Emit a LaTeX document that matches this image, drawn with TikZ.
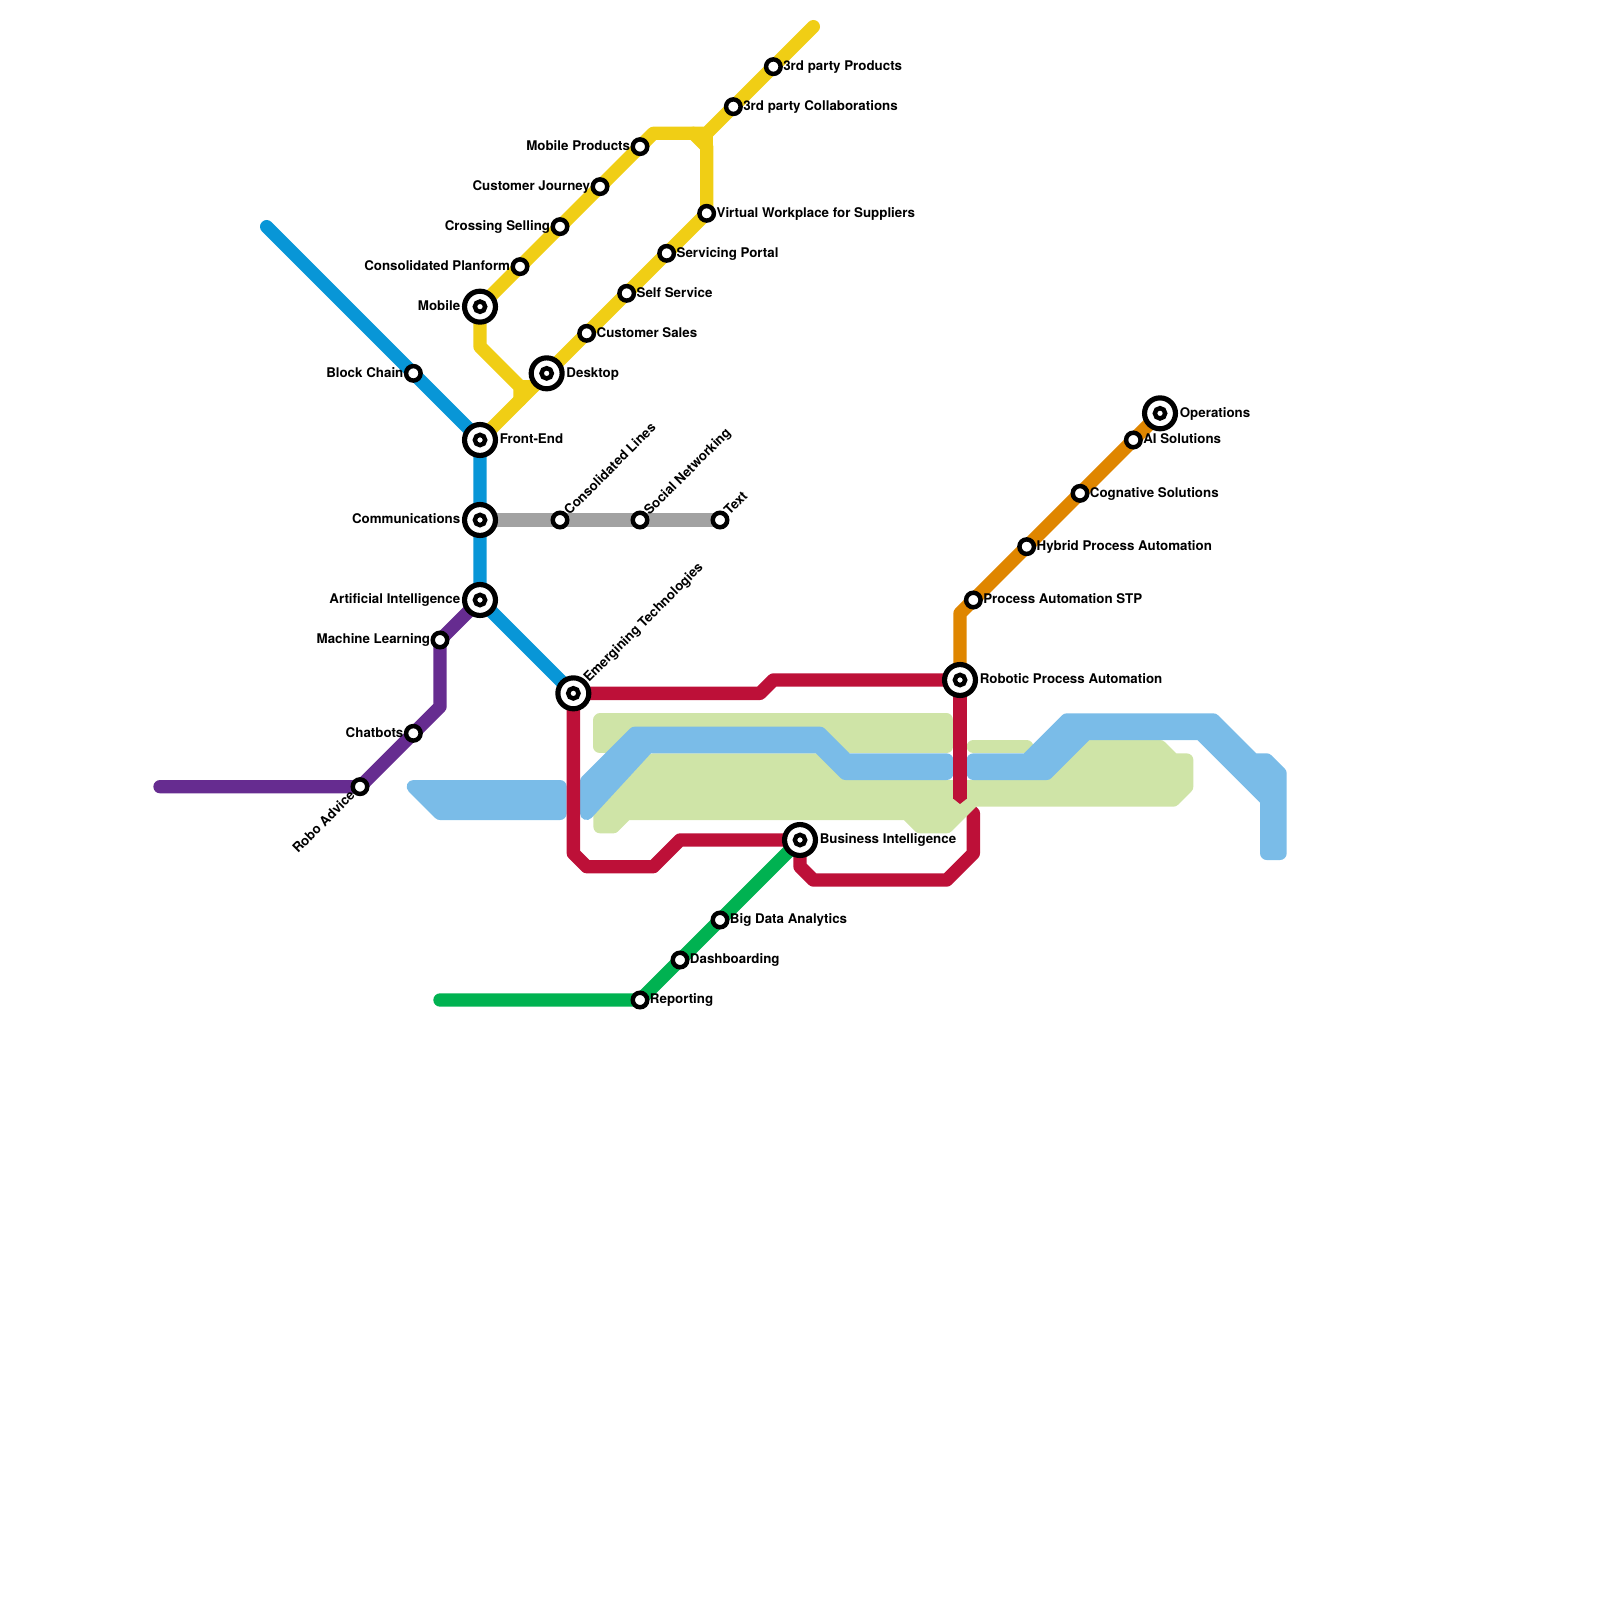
\documentclass[tikz,border=0pt]{standalone}
\usepackage{fontspec}
\setmainfont{TeX Gyre Heros}
\usetikzlibrary{positioning, arrows.meta, backgrounds}
\definecolor{Metro_Red}{HTML}{BD1038}
\definecolor{Metro_Orange}{HTML}{DF8600}
\definecolor{Metro_Yellow}{HTML}{F0CE15}
\definecolor{Metro_Green}{HTML}{00B251}
\definecolor{Metro_Blue}{HTML}{0896D7}
\definecolor{Metro_Purple}{HTML}{662C90}
\definecolor{Metro_Silver}{HTML}{A2A2A2}
\definecolor{Metro_Lime}{HTML}{CFE4A7}
\definecolor{Metro_Sky}{HTML}{7ABCE8}

\begin{document}
\begin{tikzpicture}[
  x=0.2cm, y=-0.2cm,
  every node/.style={font=\fontsize{5.69}{7}\selectfont\bfseries},
  stn/.style={circle, draw=black, fill=white, line width=1.9pt, inner sep=0pt, minimum size=6.2pt},
  hub/.style={circle, draw=black, fill=white, line width=2.2pt, inner sep=0pt, minimum size=13.2pt,
    path picture={\draw[line width=1.9pt] (path picture bounding box.center) circle (2.2pt);}},
  lbl/.style={inner sep=0pt, text=black, text height=4.4pt, text depth=1.2pt},
  metro/.style={line width=5.69pt, line cap=round, line join=round},
  band/.style={line width=5.69pt, line join=round}
]
  \useasboundingbox (0,0) rectangle (120,120);

  % Hubs
  \node[hub] (mobile) at (36,23) {};
  \node[hub] (desktop) at (41,28) {};
  \node[hub] (frontend) at (36,33) {};
  \node[hub] (comms) at (36,39) {};
  \node[hub] (artint) at (36,45) {};
  \node[hub] (emerging) at (43,52) {};
  \node[hub] (robotic) at (72,51) {};
  \node[hub] (busint) at (60,63) {};
  \node[hub] (operations) at (87,31) {};

  % Stops on the blue and purple lines
  \node[stn] (blockchain) at (31,28) {};
  \node[stn] (machine) at (33,48) {};
  \node[stn] (chatbots) at (31,55) {};
  \node[stn] (robo) at (27,59) {};

  % Stops on the yellow lines
  \node[stn] (planform) at (39,20) {};
  \node[stn] (crossing) at (42,17) {};
  \node[stn] (journey) at (45,14) {};
  \node[stn] (mobprod) at (48,11) {};
  \node[stn] (collab) at (55,8) {};
  \node[stn] (products) at (58,5) {};
  \node[stn] (virtual) at (53,16) {};
  \node[stn] (servicing) at (50,19) {};
  \node[stn] (selfserv) at (47,22) {};
  \node[stn] (custsales) at (44,25) {};

  % Stops on the silver line
  \node[stn] (conslines) at (42,39) {};
  \node[stn] (social) at (48,39) {};
  \node[stn] (textstop) at (54,39) {};

  % Stops on the orange line
  \node[stn] (stp) at (73,45) {};
  \node[stn] (hybrid) at (77,41) {};
  \node[stn] (cognative) at (81,37) {};
  \node[stn] (aisol) at (85,33) {};

  % Stops on the green line
  \node[stn] (bigdata) at (54,69) {};
  \node[stn] (dashb) at (51,72) {};
  \node[stn] (reporting) at (48,75) {};

  % Labels to the left
  \node[lbl, left=0.55pt of mobile] (mobilel) {Mobile};
  \node[lbl, left=0.55pt of comms] (commsl) {Communications};
  \node[lbl, left=0.55pt of artint] (artintl) {Artificial Intelligence};
  \node[lbl, left=0pt of blockchain] (blockchainl) {Block Chain};
  \node[lbl, left=0pt of machine] (machinel) {Machine Learning};
  \node[lbl, left=0pt of chatbots] (chatbotsl) {Chatbots};
  \node[lbl, left=0pt of planform] (planforml) {Consolidated Planform};
  \node[lbl, left=0pt of crossing] (crossingl) {Crossing Selling};
  \node[lbl, left=0pt of journey] (journeyl) {Customer Journey};
  \node[lbl, left=0pt of mobprod] (mobprodl) {Mobile Products};

  % Labels to the right
  \node[lbl, right=0.55pt of desktop] (desktopl) {Desktop};
  \node[lbl, right=0.55pt of frontend] (frontendl) {Front-End};
  \node[lbl, right=0.55pt of robotic] (roboticl) {Robotic Process Automation};
  \node[lbl, right=0.55pt of busint] (busintl) {Business Intelligence};
  \node[lbl, right=0.55pt of operations] (operationsl) {Operations};
  \node[lbl, right=0pt of collab] (collabl) {3rd party Collaborations};
  \node[lbl, right=0pt of products] (productsl) {3rd party Products};
  \node[lbl, right=0pt of virtual] (virtuall) {Virtual Workplace for Suppliers};
  \node[lbl, right=0pt of servicing] (servicingl) {Servicing Portal};
  \node[lbl, right=0pt of selfserv] (selfservl) {Self Service};
  \node[lbl, right=0pt of custsales] (custsalesl) {Customer Sales};
  \node[lbl, right=0pt of stp] (stpl) {Process Automation STP};
  \node[lbl, right=0pt of hybrid] (hybridl) {Hybrid Process Automation};
  \node[lbl, right=0pt of cognative] (cognativel) {Cognative Solutions};
  \node[lbl, right=0pt of aisol] (aisoll) {AI Solutions};
  \node[lbl, right=0pt of bigdata] (bigdatal) {Big Data Analytics};
  \node[lbl, right=0pt of dashb] (dashbl) {Dashboarding};
  \node[lbl, right=0pt of reporting] (reportingl) {Reporting};

  % Slanted labels
  \node[lbl, rotate=45, anchor=west] (consl) at (conslines.north east) {Consolidated Lines};
  \node[lbl, rotate=45, anchor=west] (sociall) at (social.north east) {Social Networking};
  \node[lbl, rotate=45, anchor=west] (textl) at (textstop.north east) {Text};
  \node[lbl, rotate=45, anchor=west] (emergingl) at (emerging.north east) {Emergining Technologies};
  \node[lbl, rotate=45, anchor=east] (robol) at (robo.south west) {Robo Advice};

  % Free ends and bends
  \coordinate (bluestart) at (20,17);
  \coordinate (purplestart) at (12,59);
  \coordinate (purplea) at (33,53);
  \coordinate (yellowend) at (61,2);
  \coordinate (yellowa) at (49,10);
  \coordinate (yellowb) at (53,10);
  \coordinate (yellowc) at (53,11);
  \coordinate (yellowd) at (52,10);
  \coordinate (yellowe) at (36,26);
  \coordinate (yellowf) at (39,29);
  \coordinate (yellowg) at (39,30);
  \coordinate (yellowh) at (40,29);
  \coordinate (orangea) at (72,46);
  \coordinate (greenstart) at (33,75);

  \begin{scope}[on background layer]
    % Red line, lower part
    \draw[metro, Metro_Red] (busint.center) -- (60,65) -- (61,66) -- (71,66) -- (73,64) -- (73,61) -- (72,60);

    % Lime band
    \fill[Metro_Lime, draw=Metro_Lime, band] (45,54) -- (71,54) -- (71,56) -- (45,56) -- cycle;
    \fill[Metro_Lime, draw=Metro_Lime, band] (45,62) -- (46,62) -- (47,61) -- (68,61) -- (69,62) -- (71,62)
      -- (73,60) -- (88,60) -- (89,59) -- (89,57) -- (88,57) -- (87,56) -- (81,56) -- (78,59) -- (64,59)
      -- (62,57) -- (49,57) -- (45,61) -- cycle;
    \draw[metro, Metro_Lime] (73,56) -- (77,56);

    % Sky band
    \fill[Metro_Sky, draw=Metro_Sky, band] (31,59) -- (42,59) -- (42,61) -- (33,61) -- cycle;
    \fill[Metro_Sky, draw=Metro_Sky, band] (44,61) -- (48.6,56) -- (61.4,56) -- (63.4,58) -- (71,58) -- (71,57)
      -- (63.5,57) -- (61.5,55) -- (47.6,55) -- (44,58.6) -- cycle;
    \fill[Metro_Sky, draw=Metro_Sky, band] (73,57) -- (77,57) -- (80,54) -- (91,54) -- (94,57) -- (95,57)
      -- (96,58) -- (96,64) -- (95,64) -- (95,60) -- (90,55) -- (81.5,55) -- (78.5,58) -- (73,58) -- cycle;

    % Red line, upper part
    \draw[metro, Metro_Red] (emerging.center) -- (57,52) -- (58,51) -- (robotic.center);
    \draw[metro, Metro_Red] (emerging.center) -- (43,64) -- (44,65) -- (49,65) -- (51,63) -- (busint.center);
    \draw[Metro_Red, line width=5.69pt, -{Triangle[length=2.3pt,width=5.69pt]}] (robotic.center) -- (72,60.3);

    % Blue line
    \draw[metro, Metro_Blue] (bluestart) -- (blockchain.center) -- (frontend.center) -- (comms.center)
      -- (artint.center) -- (emerging.center);

    % Purple line
    \draw[metro, Metro_Purple] (purplestart) -- (robo.center) -- (chatbots.center) -- (purplea)
      -- (machine.center) -- (artint.center);

    % Yellow lines
    \draw[metro, Metro_Yellow] (mobile.center) -- (planform.center) -- (crossing.center) -- (journey.center)
      -- (mobprod.center) -- (yellowa) -- (yellowb) -- (collab.center) -- (products.center) -- (yellowend);
    \draw[metro, Metro_Yellow] (frontend.center) -- (yellowg) -- (desktop.center) -- (custsales.center)
      -- (selfserv.center) -- (servicing.center) -- (virtual.center) -- (yellowc) -- (yellowd);
    \draw[metro, Metro_Yellow] (yellowc) -- (yellowb);
    \draw[metro, Metro_Yellow] (mobile.center) -- (yellowe) -- (yellowf) -- (yellowg);
    \draw[metro, Metro_Yellow] (yellowf) -- (yellowh);

    % Silver line
    \draw[metro, Metro_Silver] (comms.center) -- (conslines.center) -- (social.center) -- (textstop.center);

    % Orange line
    \draw[metro, Metro_Orange] (robotic.center) -- (orangea) -- (stp.center) -- (hybrid.center)
      -- (cognative.center) -- (aisol.center) -- (operations.center);

    % Green line
    \draw[metro, Metro_Green] (greenstart) -- (reporting.center) -- (dashb.center) -- (bigdata.center)
      -- (busint.center);
  \end{scope}
\end{tikzpicture}
\end{document}
